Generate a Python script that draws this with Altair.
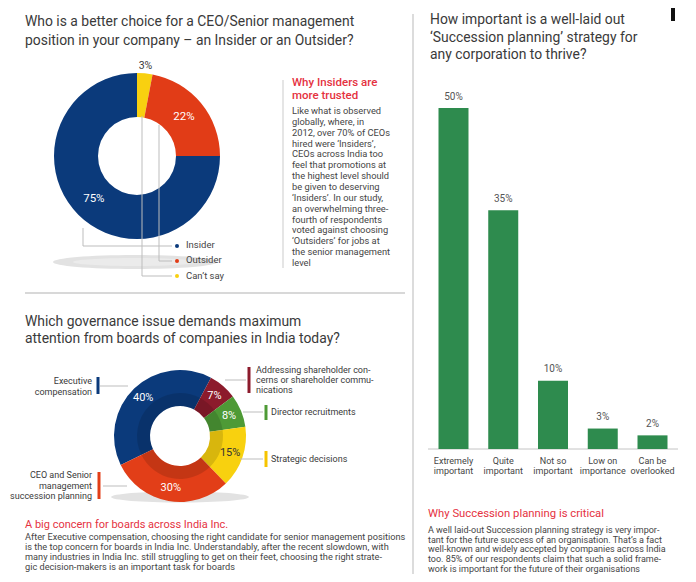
import math
import altair as alt
import pandas as pd

# ---------------- data ----------------
Q1_TITLE = ["Who is a better choice for a CEO/Senior management",
            "position in your company \u2013 an Insider or an Outsider?"]
Q1_CATS = ["Can't say", "Outsider", "Insider"]
Q1_VALS = [3, 22, 75]
Q1_COLORS = ["#f8d010", "#e13c17", "#0b3a7b"]
Q1_LEGEND = ["Insider", "Outsider", "Can\u2019t say"]
Q1_LEGEND_COLORS = ["#0b3a7b", "#e13c17", "#f8d010"]
Q1_NOTE_HEAD = ["Why Insiders are", "more trusted"]
Q1_NOTE = ["Like what is observed",
           "globally, where, in",
           "2012, over 70% of CEOs",
           "hired were \u2018Insiders\u2019,",
           "CEOs across India too",
           "feel that promotions at",
           "the highest level should",
           "be given to deserving",
           "\u2018Insiders\u2019. In our study,",
           "an overwhelming three-",
           "fourth of respondents",
           "voted against choosing",
           "\u2018Outsiders\u2019 for jobs at",
           "the senior management",
           "level"]

Q2_TITLE = ["Which governance issue demands maximum",
            "attention from boards of companies in India today?"]
Q2_CATS = ["Executive compensation",
           "Addressing shareholder concerns or shareholder communications",
           "Director recruitments",
           "Strategic decisions",
           "CEO and Senior management succession planning"]
Q2_VALS = [40, 7, 8, 15, 30]
Q2_COLORS = ["#0b3a7b", "#8c1b2c", "#4e9a36", "#f8d10f", "#e23e18"]
Q2_CALLOUT_EXEC = ["Executive", "compensation"]
Q2_CALLOUT_ADDR = ["Addressing shareholder con-", "cerns or shareholder commu-", "nications"]
Q2_CALLOUT_DIR = ["Director recruitments"]
Q2_CALLOUT_STRAT = ["Strategic decisions"]
Q2_CALLOUT_CEO = ["CEO and Senior", "management", "succession planning"]
Q2_NOTE_HEAD = ["A big concern for boards across India Inc."]
Q2_NOTE = ["After Executive compensation, choosing the right candidate for senior management positions",
           "is the top concern for boards in India Inc. Understandably, after the recent slowdown, with",
           "many industries in India Inc. still struggling to get on their feet, choosing the right strate-",
           "gic decision-makers is an important task for boards"]

Q3_TITLE = ["How important is a well-laid out",
            "\u2018Succession planning\u2019 strategy for",
            "any corporation to thrive?"]
Q3_CATS = ["Extremely important", "Quite important", "Not so important",
           "Low on importance", "Can be overlooked"]
Q3_TICKS = ["Extremely\nimportant", "Quite\nimportant", "Not so\nimportant",
            "Low on\nimportance", "Can be\noverlooked"]
Q3_VALS = [50, 35, 10, 3, 2]
Q3_NOTE_HEAD = ["Why Succession planning is critical"]
Q3_NOTE = ["A well laid-out Succession planning strategy is very impor-",
           "tant for the future success of an organisation. That\u2019s a fact",
           "well-known and widely accepted by companies across India",
           "too. 85% of our respondents claim that such a solid frame-",
           "work is important for the future of their organisations"]

# ---------------- layout helpers ----------------
FONT = "Roboto"
DARK = "#3a3a3a"
BODY = "#454545"
RED = "#e5323f"
LINE = "#bdbdbd"
TSIZE = 13.9
W, H = 680, 566


def px(x):
    return x - 8


def py(y):
    return y - 8


ONE = pd.DataFrame({"k": [0]})


def text_block(lines, x, y0, lh, size, color, align="left", weight="normal", font=FONT):
    df = pd.DataFrame({"t": lines,
                       "x": [px(x)] * len(lines),
                       "y": [py(y0 + i * lh) for i in range(len(lines))]})
    return alt.Chart(df).mark_text(align=align, baseline="middle", font=font,
                                   fontSize=size, color=color, fontWeight=weight).encode(
        x=alt.X("x:Q", scale=None, axis=None),
        y=alt.Y("y:Q", scale=None, axis=None),
        text="t:N")


def segs(seglist, color, width=1.0):
    df = pd.DataFrame({"x": [px(s[0]) for s in seglist], "y": [py(s[1]) for s in seglist],
                       "x2": [px(s[2]) for s in seglist], "y2": [py(s[3]) for s in seglist]})
    return alt.Chart(df).mark_rule(color=color, strokeWidth=width).encode(
        x=alt.X("x:Q", scale=None, axis=None), y=alt.Y("y:Q", scale=None, axis=None),
        x2="x2:Q", y2="y2:Q")


def shadow(cx, cy, rx, ry, color):
    # flat ellipse drawn as a custom symbol (unit box scaled to 2*rx wide)
    k = ry / rx
    path = f"M -1 0 A 1 {k:.4f} 0 1 1 1 0 A 1 {k:.4f} 0 1 1 -1 0 Z"
    return alt.Chart(ONE).mark_point(shape=path, filled=True, opacity=1, color=color,
                                     size=(2 * rx) ** 2).encode(
        x=alt.value(px(cx)), y=alt.value(py(cy)))


layers = []

# ---------------- panel 1: insider / outsider donut ----------------
layers.append(text_block(Q1_TITLE, 25, 22, 18.5, TSIZE, DARK))
layers.append(shadow(135, 262, 82, 7, "#e2e2e2"))
layers.append(shadow(135, 262, 62, 4, "#ebebeb"))

d1 = pd.DataFrame({"cat": Q1_CATS, "val": Q1_VALS, "ord": list(range(len(Q1_CATS)))})
c1x, c1y = px(137), py(156)
base1 = alt.Chart(d1).transform_calculate(lab="datum.val + '%'").encode(
    theta=alt.Theta("val:Q", stack=True, scale=alt.Scale(range=[0, 2 * math.pi])),
    order=alt.Order("ord:Q"),
    x=alt.value(c1x), y=alt.value(c1y))
layers.append(base1.mark_arc(innerRadius=39, outerRadius=83).encode(
    color=alt.Color("cat:N", scale=alt.Scale(domain=Q1_CATS, range=Q1_COLORS), legend=None)))
layers.append(base1.mark_text(radius=61, font=FONT, fontSize=11.5, color="white").encode(
    text="lab:N",
    opacity=alt.condition(alt.datum.cat == "Can't say", alt.value(0), alt.value(1))))
layers.append(base1.mark_text(radius=90, font=FONT, fontSize=10.5, color=DARK).encode(
    text="lab:N",
    opacity=alt.condition(alt.datum.cat == "Can't say", alt.value(1), alt.value(0))))

# leader lines to legend
layers.append(segs([(83, 228, 83, 246), (83, 246, 172, 246),
                    (159, 125, 159, 261), (159, 261, 172, 261),
                    (142, 116, 142, 276), (142, 276, 172, 276)], LINE, 1))
leg = pd.DataFrame({"cat": Q1_LEGEND, "x": [px(177)] * 3, "y": [py(246), py(261), py(276)]})
layers.append(alt.Chart(leg).mark_point(filled=True, size=16, opacity=1).encode(
    x=alt.X("x:Q", scale=None, axis=None), y=alt.Y("y:Q", scale=None, axis=None),
    color=alt.Color("cat:N", scale=alt.Scale(domain=Q1_LEGEND, range=Q1_LEGEND_COLORS), legend=None)))
layers.append(text_block(Q1_LEGEND, 186, 245, 15.3, 9.5, BODY))

# note on the right of the donut
layers.append(segs([(283, 80, 283, 268)], "#dddddd", 1.5))
layers.append(text_block(Q1_NOTE_HEAD, 292, 83, 12.5, 11.5, RED, weight=500))
layers.append(text_block(Q1_NOTE, 292, 111, 10.86, 9.3, BODY))

# separators
layers.append(segs([(25, 293, 405, 293)], "#d8d8d8", 2))
layers.append(segs([(413, 14, 413, 575)], "#dcdcdc", 2))
layers.append(segs([(673, 0, 673, 21)], "#111111", 4))

# ---------------- panel 2: governance donut ----------------
layers.append(text_block(Q2_TITLE, 25, 322, 17, TSIZE, DARK))
layers.append(shadow(180, 497, 69, 5.5, "#e2e2e2"))

d2 = pd.DataFrame({"cat": Q2_CATS, "val": Q2_VALS, "ord": list(range(len(Q2_CATS)))})
c2x, c2y = px(180), py(436)
start2 = math.radians(-116)
base2 = alt.Chart(d2).transform_calculate(lab="datum.val + '%'").encode(
    theta=alt.Theta("val:Q", stack=True, scale=alt.Scale(range=[start2, start2 + 2 * math.pi])),
    order=alt.Order("ord:Q"),
    x=alt.value(c2x), y=alt.value(c2y))
layers.append(base2.mark_arc(innerRadius=30, outerRadius=66).encode(
    color=alt.Color("cat:N", scale=alt.Scale(domain=Q2_CATS, range=Q2_COLORS), legend=None)))
layers.append(base2.mark_arc(innerRadius=30, outerRadius=43, color="#000000", opacity=0.13))
layers.append(base2.mark_text(radius=53, font=FONT, fontSize=11).encode(
    text="lab:N",
    color=alt.condition(alt.datum.cat == "Strategic decisions", alt.value("#333333"), alt.value("white"))))

# callouts
layers.append(segs([(100, 386, 128, 386), (225, 380, 246, 380), (243, 412, 263, 412),
                    (240, 459, 263, 459), (103, 486, 127, 486)], LINE, 1))
layers.append(segs([(98, 377, 98, 394)], Q2_COLORS[0], 3))
layers.append(segs([(249, 367, 249, 393)], Q2_COLORS[1], 3))
layers.append(segs([(266, 405, 266, 420)], Q2_COLORS[2], 3))
layers.append(segs([(266, 451, 266, 467)], "#f6c400", 3))
layers.append(segs([(99, 472, 99, 499)], Q2_COLORS[4], 3))
layers.append(text_block(Q2_CALLOUT_EXEC, 92, 381, 10.5, 9.0, DARK, align="right"))
layers.append(text_block(Q2_CALLOUT_ADDR, 256, 370, 10, 9.0, DARK))
layers.append(text_block(Q2_CALLOUT_DIR, 271, 412, 10, 9.0, DARK))
layers.append(text_block(Q2_CALLOUT_STRAT, 271, 459, 10, 9.0, DARK))
layers.append(text_block(Q2_CALLOUT_CEO, 92, 475, 10.5, 9.0, DARK, align="right"))

layers.append(text_block(Q2_NOTE_HEAD, 25, 525, 10, 11, RED))
layers.append(text_block(Q2_NOTE, 25, 537, 10, 9.2, BODY))

# ---------------- panel 3: bar chart ----------------
layers.append(text_block(Q3_TITLE, 430, 20, 17.5, TSIZE, DARK))

d3 = pd.DataFrame({"cat": Q3_CATS, "val": Q3_VALS, "tick": Q3_TICKS})
xb = alt.X("cat:N", sort=Q3_CATS, axis=None,
           scale=alt.Scale(domain=Q3_CATS, range=[px(428), px(678)],
                           paddingInner=0.397, paddingOuter=0.211))
yb = alt.Y("val:Q", axis=None,
           scale=alt.Scale(domain=[0, 50], range=[py(449), py(108)], nice=False, zero=True))
bars = alt.Chart(d3).mark_bar(color="#2e8b4e").encode(x=xb, y=yb)
barlab = alt.Chart(d3).transform_calculate(lab="datum.val + '%'").mark_text(
    baseline="middle", dy=-11.5, font=FONT, fontSize=10, color="#555555").encode(
    x=xb, y=yb, text="lab:N")
ticklab = alt.Chart(d3).mark_text(
    baseline="top", lineBreak="\n", lineHeight=10, font=FONT, fontSize=9, color=BODY).encode(
    x=xb, y=alt.value(py(457)), text="tick:N")
layers.append(segs([(428, 449, 678, 449)], "#c4c4c4", 1))
layers.append(alt.layer(bars, barlab, ticklab))

layers.append(text_block(Q3_NOTE_HEAD, 428, 514, 10, 11.3, RED))
layers.append(text_block(Q3_NOTE, 428, 530, 9.7, 9.0, BODY))

chart = alt.layer(*layers).resolve_scale(
    x="independent", y="independent", theta="independent", color="independent",
    opacity="independent"
).properties(
    width=W, height=H, padding=0, autosize=alt.AutoSizeParams(type="none"),
    background="white"
).configure_view(stroke=None)

chart.save("out.html", embed_options={"renderer": "svg", "actions": False})
